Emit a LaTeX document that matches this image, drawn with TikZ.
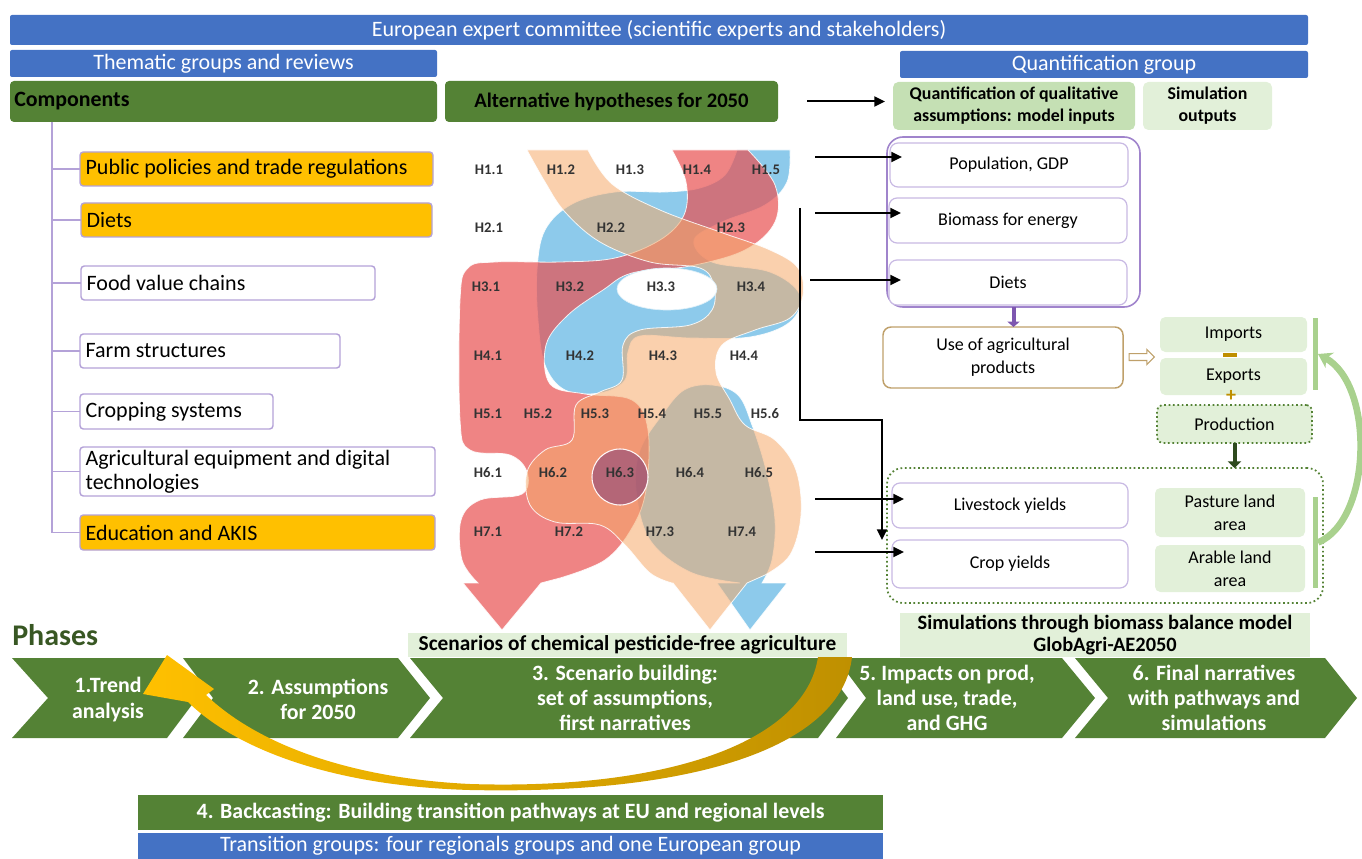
\documentclass[tikz,border=0pt]{standalone}
\usepackage{fontspec}
\setmainfont{Carlito}
\usetikzlibrary{fit,arrows.meta,shapes.arrows}
\definecolor{barblue}{HTML}{4472C4}
\definecolor{dgreen}{HTML}{548235}
\definecolor{lgreenA}{HTML}{C5E0B4}
\definecolor{lgreenB}{HTML}{E2F0D9}
\definecolor{gold}{HTML}{FFC000}
\definecolor{arrowgold}{HTML}{BF9000}
\definecolor{lav}{HTML}{B4A2D8}
\definecolor{lavlight}{HTML}{C8B9E3}
\definecolor{purp}{HTML}{A084CC}
\definecolor{purpA}{HTML}{7E57B0}
\definecolor{brownb}{HTML}{BFA06A}
\definecolor{redR}{HTML}{E85050}
\definecolor{blueR}{HTML}{5CB4E3}
\definecolor{peachR}{HTML}{F5A96A}
\definecolor{mauveR}{HTML}{6A2A7A}
\definecolor{phgreen}{HTML}{385723}
\definecolor{curvegreen}{HTML}{A9D18E}
\definecolor{signcol}{HTML}{BF8F00}
\definecolor{dkarrow}{HTML}{2E4A1E}
\definecolor{hcol}{HTML}{333333}
\newcommand{\fz}[2]{\fontsize{#1pt}{#2pt}\selectfont}
\begin{document}
\begin{tikzpicture}[x=0.75pt,y=-0.75pt,
  bx/.style={inner sep=0pt, outer sep=0pt},
  bar/.style={bx, fill=barblue, rounded corners=1.5pt},
  bartext/.style={text=white, inner sep=0pt, font=\fz{16.5}{19}},
  gbar/.style={bx, fill=dgreen, rounded corners=3pt},
  comp/.style={bx, draw=lav, line width=1.1pt, rounded corners=2.5pt},
  ltext/.style={anchor=west, inner sep=0pt, font=\fz{16.5}{18}},
  rbox/.style={bx, draw=lavlight, line width=0.9pt, rounded corners=6pt, fill=white},
  rtext/.style={inner sep=0pt, align=center, font=\fz{13.5}{17}},
  lbox/.style={bx, fill=lgreenB, rounded corners=4pt},
  btext/.style={inner sep=0pt, align=center, font=\bfseries\fz{13.4}{16.5}},
  hlab/.style={font=\bfseries\fz{11}{12}, text=hcol, inner sep=0pt},
  ribbon/.style={draw=white, draw opacity=0.85, line width=0.6pt},
  chevtext/.style={text=white, font=\bfseries\fz{16.4}{19}, align=center, inner sep=0pt},
  conn/.style={line width=1.5pt, -{Triangle[length=8pt,width=7.5pt]}},
  treeline/.style={draw=lav, line width=1.1pt}]
\useasboundingbox (0,0) rectangle (1362,859);

% ---------- top bars ----------
\node[bar, fit={(10,15)(1308,45)}] (euro) {};
\node[bartext] (eurot) at (euro.center) {European expert committee (scientific experts and stakeholders)};
\node[bar, fit={(10,50)(437,77)}] (thematic) {};
\node[bartext] (thematict) at (thematic.center) {Thematic groups and reviews};
\node[bar, fit={(900,51)(1308,78)}] (quantgroup) {};
\node[bartext] (quantgroupt) at (quantgroup.center) {Quantification group};
\node[gbar, fit={(10,81)(437,122)}] (comp) {};
\node[anchor=west, inner sep=0pt, font=\bfseries\fz{16.4}{18}] (compt) at ([xshift=3pt]comp.west) {Components};
\node[gbar, fit={(445,81)(778,122)}] (alt) {};
\node[inner sep=0pt, font=\bfseries\fz{15.5}{18}] (altt) at (alt.center) {Alternative hypotheses for 2050};
\node[bx, fill=lgreenA, rounded corners=4pt, fit={(893,82)(1135,130)}] (quant) {};
\node[btext] (quantt) at (quant.center) {Quantification of qualitative\\assumptions: model inputs};
\node[bx, fill=lgreenB, rounded corners=4pt, fit={(1143,82)(1272,130)}] (simout) {};
\node[btext] (simoutt) at (simout.center) {Simulation\\outputs};
\draw[conn, shorten <=22pt, shorten >=6pt] (alt.east) -- (alt.east -| quant.west);

% ---------- left components ----------
\node[comp, fill=gold, fit={(80,152)(433,186)}] (pp) {};
\node[ltext] (ppt) at ([xshift=4pt]pp.west) {Public policies and trade regulations};
\node[comp, fill=gold, fit={(81,203)(432,237)}] (diets) {};
\node[ltext] (dietst) at ([xshift=4pt]diets.west) {Diets};
\node[comp, fill=white, fit={(81,266)(375,300)}] (fvc) {};
\node[ltext] (fvct) at ([xshift=4pt]fvc.west) {Food value chains};
\node[comp, fill=white, fit={(80,334)(340,368)}] (farm) {};
\node[ltext] (farmt) at ([xshift=4pt]farm.west) {Farm structures};
\node[comp, fill=white, fit={(80,394)(273,429)}] (crop) {};
\node[ltext] (cropt) at ([xshift=4pt]crop.west) {Cropping systems};
\node[comp, fill=white, fit={(80,447)(435,496)}] (agri) {};
\node[ltext, align=left] (agrit) at ([xshift=4pt]agri.west) {Agricultural equipment and digital\\technologies};
\node[comp, fill=gold, fit={(80,515)(435,550)}] (edu) {};
\node[ltext] (edut) at ([xshift=4pt]edu.west) {Education and AKIS};
\coordinate (treetop) at (52,122);
\draw[treeline] (treetop) |- (edu.west);
\foreach \b in {pp,diets,fvc,farm,crop,agri} \draw[treeline] (treetop |- \b.west) -- (\b.west);

% ---------- hypothesis ribbons ----------
\path[ribbon, fill=blueR, fill opacity=0.7] (790,150) -- plot[smooth, tension=0.6] coordinates {(790,150) (787,182) (765,205) (722,222) (694,240) (712,262) (770,272) (800,295) (790,322) (750,337) (690,338) (640,336) (628,352) (625,380) (600,393) (565,390) (545,365) (538,320) (537,270) (545,230) (572,204) (615,192) (665,192) (700,188) (725,175) (737,150)} -- cycle;
\path[ribbon, fill=blueR, fill opacity=0.7] (787,583) -- plot[smooth, tension=0.6] coordinates {(762,583) (772,560) (775,520) (766,470) (752,425) (738,395) (712,385) (684,390) (662,415) (640,450) (636,490) (650,540) (690,572) (740,583)} -- (717,583) -- (750,630) -- cycle;
\path[ribbon, fill=redR, fill opacity=0.7] (541,583) -- plot[smooth, tension=0.6] coordinates {(560,578) (605,560) (632,528) (646,490) (648,430) (632,400) (585,394) (550,384) (546,345) (568,315) (603,290) (632,273) (690,266) (745,250) (775,222) (775,185) (748,150)} -- (672,150) -- plot[smooth, tension=0.6] coordinates {(672,150) (686,182) (684,215) (660,240) (615,258) (560,262) (495,262) (468,268) (460,300) (460,420) (470,450) (510,455) (527,472) (522,494) (480,500) (461,520) (462,560) (478,583)} -- (463,583) -- (502,630) -- cycle;
\path[ribbon, fill=peachR, fill opacity=0.55] (747,583) -- plot[smooth, tension=0.6] coordinates {(765,575) (790,555) (801,515) (796,470) (775,440) (745,425) (730,400) (716,372) (722,345) (755,330) (790,318) (803,295) (798,268) (770,250) (720,232) (660,210) (612,184) (588,150)} -- (527,150) -- plot[smooth, tension=0.6] coordinates {(527,150) (545,182) (565,212) (600,242) (650,262) (700,268) (714,286) (712,310) (690,325) (640,330) (623,345) (622,380) (600,392) (576,405) (572,440) (545,450) (527,472) (530,505) (555,522) (600,525) (625,545) (650,573) (672,583)} -- (673,583) -- (710,630) -- cycle;
\fill[mauveR, opacity=0.45] (620,477) circle[radius=28];
\draw[white!85!pink, line width=0.8pt] (620,477) circle[radius=28];
\path[fill=white, draw=white!80!blueR, line width=0.5pt] (667,289) ellipse[x radius=50, y radius=21];

\foreach \a/\b/\x/\y in {1/1/489/170,1/2/561/170,1/3/630/170,1/4/697/170,1/5/766/170,
  2/1/489/228,2/2/611/228,2/3/731/228,
  3/1/486/287,3/2/570/287,3/3/661/287,3/4/751/287,
  4/1/488/356,4/2/580/356,4/3/663/356,4/4/744/356,
  5/1/488/414,5/2/538/414,5/3/595/414,5/4/652/414,5/5/708/414,5/6/765/414,
  6/1/488/473,6/2/553/473,6/3/620/473,6/4/690/473,6/5/759/473,
  7/1/488/532,7/2/569/532,7/3/660/532,7/4/742/532}
  \node[hlab] (h\a\b) at (\x,\y) {H\a.\b};

% ---------- right side ----------
\node[bx, draw=purp, line width=1.2pt, rounded corners=12pt, fit={(887,137)(1140,307)}] (outer) {};
\node[rbox, fit={(890,143)(1128,187)}] (pop) {};
\node[rtext] (popt) at (pop.center) {Population, GDP};
\node[rbox, fit={(889,198)(1127,243)}] (bio) {};
\node[rtext] (biot) at (bio.center) {Biomass for energy};
\node[rbox, fit={(889,260)(1127,305)}] (dietsR) {};
\node[rtext] (dietsRt) at (dietsR.center) {Diets};
\node[rbox, draw=brownb, line width=1.1pt, fit={(883,327)(1123,388)}] (use) {};
\node[rtext] (uset) at (use.center) {Use of agricultural\\products};
\draw[-{Triangle[length=4pt,width=9pt]}, line width=3pt, purpA] (outer.south) -- (outer.south |- use.north);
\node[single arrow, draw=brownb, fill=white, line width=0.8pt, minimum height=19pt, inner xsep=0pt, inner ysep=2.2pt, single arrow head extend=3pt] (hollow) at (1140,357) {};
\node[lbox, fit={(1160,317)(1307,352)}] (imports) {};
\node[rtext] (importst) at (imports.center) {Imports};
\node[lbox, fit={(1160,358)(1307,395)}] (exports) {};
\node[rtext] (exportst) at (exports.center) {Exports};
\node[fill=signcol, inner sep=0pt, minimum width=10pt, minimum height=2.5pt] (minus) at (1230,355) {};
\node[text=signcol, font=\bfseries\fz{15}{15}, inner sep=0pt] (plus) at (1231,396) {+};
\node[lbox, draw=dgreen, dotted, line width=1.3pt, fit={(1157,405)(1312,443)}] (prod) {};
\node[rtext] (prodt) at (prod.center) {Production};
\node[bx, draw=dgreen, dotted, line width=1.3pt, rounded corners=12pt, fit={(887,468)(1323,603)}] (big) {};
\draw[-{Triangle[length=5pt,width=10pt]}, line width=3pt, dkarrow] (prod.south) -- (prod.south |- big.north);
\node[rbox, fit={(892,483)(1128,528)}] (live) {};
\node[rtext] (livet) at (live.center) {Livestock yields};
\node[rbox, fit={(892,540)(1128,588)}] (cropY) {};
\node[rtext] (cropYt) at (cropY.center) {Crop yields};
\node[lbox, fit={(1155,488)(1305,537)}] (pasture) {};
\node[rtext] (pasturet) at (pasture.center) {Pasture land\\area};
\node[lbox, fit={(1155,545)(1305,592)}] (arable) {};
\node[rtext] (arablet) at (arable.center) {Arable land\\area};
\node[bx, fill=curvegreen, fit={(1313,318)(1318,390)}] (barup) {};
\node[bx, fill=curvegreen, fit={(1313,497)(1318,588)}] (barlow) {};
\draw[curvegreen, line width=5pt, -{Stealth[length=10pt,width=13pt]}] (barlow.east) .. controls (1372,520) and (1375,385) .. (barup.east);

\node[lbox, rounded corners=0pt, fit={(900,613)(1310,657)}] (simbox) {};
\node[btext, font=\bfseries\fz{15.3}{16.5}] (simboxt) at (simbox.center) {Simulations through biomass balance model\\GlobAgri-AE2050};
\node[lbox, rounded corners=0pt, fit={(408,633)(847,657)}] (scen) {};
\node[btext, font=\bfseries\fz{16}{18}] (scent) at (scen.center) {Scenarios of chemical pesticide-free agriculture};

% connectors from hypotheses
\coordinate (s1) at (815,157);
\coordinate (s2) at (815,213);
\coordinate (s3) at (810,280);
\coordinate (s4) at (800,208);
\coordinate (k4) at (800,420);
\coordinate (s5) at (815,499);
\coordinate (s6) at (815,552);
\draw[conn, shorten >=-9pt] (s1) -- (s1 -| pop.west);
\draw[conn, shorten >=-9pt] (s2) -- (s2 -| bio.west);
\draw[conn, shorten >=-9pt] (s3) -- (s3 -| dietsR.west);
\draw[conn] (s4) -- (k4) -| ([xshift=-7.5pt]cropY.north west);
\draw[conn, shorten >=-9pt] (s5) -- (s5 -| live.west);
\draw[conn, shorten >=-9pt] (s6) -- (s6 -| cropY.west);

% ---------- phases ----------
\node[anchor=west, text=phgreen, font=\bfseries\fz{22.5}{24}, inner sep=0pt] (phases) at (12,635) {Phases};
\fill[dgreen] (12,658) -- (167,658) -- (197,698) -- (167,738) -- (12,738) -- (48,698) -- cycle;
\fill[dgreen] (183,658) -- (398,658) -- (430,698) -- (398,738) -- (183,738) -- (213,698) -- cycle;
\fill[dgreen] (410,658) -- (818,658) -- (848,698) -- (818,738) -- (410,738) -- (443,698) -- cycle;
\fill[dgreen] (836,658) -- (1062,658) -- (1095,698) -- (1062,738) -- (836,738) -- (866,698) -- cycle;
\fill[dgreen] (1075,658) -- (1325,658) -- (1357,698) -- (1325,738) -- (1075,738) -- (1108,698) -- cycle;
\node[chevtext] (c1) at (108,699.5) {1.Trend\\analysis};
\node[chevtext] (c2) at (318,699.5) {2. Assumptions\\for 2050};
\node[chevtext] (c3) at (625,698) {3. Scenario building:\\set of assumptions,\\first narratives};
\node[chevtext] (c5) at (947,698) {5.\ Impacts on prod,\\land use, trade,\\and GHG};
\node[chevtext] (c6) at (1214,698) {6. Final narratives\\with pathways and\\simulations};

\node[gbar, rounded corners=0pt, fit={(138,795)(883,830)}] (back) {};
\node[inner sep=0pt, text=white, font=\bfseries\fz{16.4}{18}] (backt) at (back.center) {4. Backcasting: Building transition pathways at EU and regional levels};
\node[bar, rounded corners=0pt, fit={(138,833)(883,859)}] (trans) {};
\node[bartext] (transt) at (trans.center) {Transition groups: four regionals groups and one European group};

% yellow backcasting arrow
\shade[left color=gold, middle color=gold, right color=arrowgold] (852,657) .. controls (842,745) and (700,795) .. (470,790) .. controls (330,786) and (235,748) .. (188,702) -- (143,694) -- (167,655) -- (214,689) -- (206,695) .. controls (255,742) and (345,778) .. (470,784) .. controls (660,790) and (805,745) .. (818,657) -- cycle;
\end{tikzpicture}
\end{document}
